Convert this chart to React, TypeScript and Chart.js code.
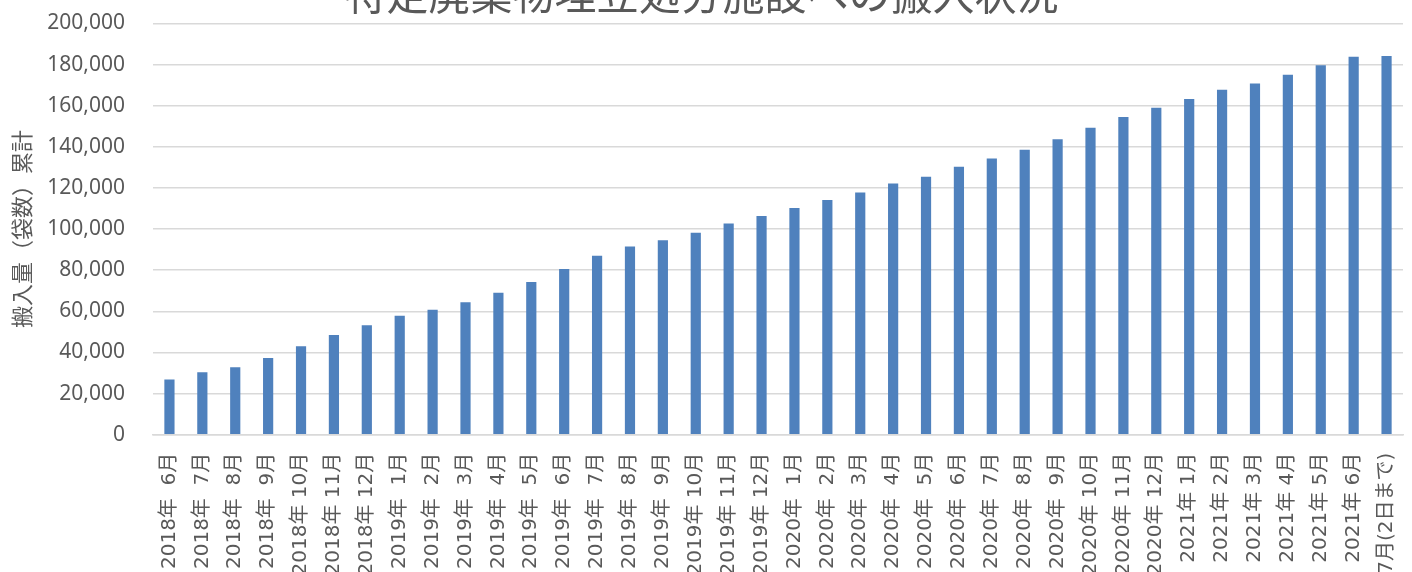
import React, { useEffect, useRef } from "react";
import { Chart, registerables } from "chart.js";

Chart.register(...registerables);

const TITLE = "特定廃棄物埋立処分施設への搬入状況";
const Y_TITLE = "搬入量（袋数）累計";

const categories: string[] = [
  "2018年  6月", "2018年  7月", "2018年  8月", "2018年  9月", "2018年 10月", "2018年 11月", "2018年 12月",
  "2019年  1月", "2019年  2月", "2019年  3月", "2019年  4月", "2019年  5月", "2019年  6月",
  "2019年  7月", "2019年  8月", "2019年  9月", "2019年 10月", "2019年 11月", "2019年 12月",
  "2020年  1月", "2020年  2月", "2020年  3月", "2020年  4月", "2020年  5月", "2020年  6月",
  "2020年  7月", "2020年  8月", "2020年  9月", "2020年 10月", "2020年 11月", "2020年 12月",
  "2021年 1月", "2021年 2月", "2021年 3月", "2021年 4月", "2021年 5月", "2021年 6月",
  "2021年 7月(2日まで)",
];

const cumulativeBags: number[] = [
  26800, 30400, 32800, 37300, 43000, 48500, 53200,
  57800, 60700, 64400, 69000, 74200, 80600,
  87000, 91500, 94600, 98200, 102700, 106400,
  110200, 114100, 117800, 122100, 125400, 130300,
  134300, 138500, 143700, 149200, 154500, 159000,
  163200, 167700, 170800, 175000, 179600, 183800,
  184100,
];

const Y_MIN = 0;
const Y_MAX = 200000;
const Y_STEP = 20000;

const FONT_CJK = "'Noto Sans CJK JP', 'Noto Sans', sans-serif";
const FONT_MIX = "'Noto Sans', 'Noto Sans CJK JP', sans-serif";
const FONT_XTICK = "'DejaVu Sans', 'Noto Sans CJK JP', sans-serif";
const TEXT = "#595959";
const GRID = "#d9d9d9";

const CANVAS_W = 1412;
const CANVAS_H = 612;
const OFFSET_TOP = 40;

export default function App() {
  const ref = useRef<HTMLCanvasElement | null>(null);

  useEffect(() => {
    if (!ref.current) return;
    const chart = new Chart(ref.current, {
      type: "bar",
      data: {
        labels: categories,
        datasets: [
          {
            label: Y_TITLE,
            data: cumulativeBags,
            backgroundColor: "#4F81BD",
            borderWidth: 0,
            barPercentage: 0.31,
            categoryPercentage: 1,
          },
        ],
      },
      options: {
        animation: false,
        responsive: false,
        maintainAspectRatio: false,
        layout: { padding: { left: 0, right: 9, top: 0, bottom: 0 } },
        plugins: {
          legend: { display: false },
          tooltip: { enabled: false },
          title: {
            display: true,
            text: TITLE,
            color: TEXT,
            font: { family: FONT_CJK, size: 42, weight: "normal", lineHeight: 1.2 },
            padding: { top: 9, bottom: 4 },
          },
        },
        scales: {
          x: {
            grid: { display: false, drawTicks: false },
            border: { display: true, color: GRID, width: 1.5 },
            ticks: {
              color: TEXT,
              font: { family: FONT_XTICK, size: 20 },
              minRotation: 90,
              maxRotation: 90,
              autoSkip: false,
              padding: 18,
            },
            afterFit: (scale: any) => {
              scale.height = 137.3;
              scale.paddingLeft = 0;
              scale.paddingRight = 0;
            },
          },
          y: {
            min: Y_MIN,
            max: Y_MAX,
            grid: { color: GRID, lineWidth: 1.5, drawTicks: false },
            border: { display: false },
            ticks: {
              stepSize: Y_STEP,
              color: TEXT,
              font: { family: FONT_MIX, size: 21 },
              padding: 28,
              callback: (v: any) => Number(v).toLocaleString("en-US"),
            },
            title: {
              display: true,
              text: Y_TITLE,
              color: TEXT,
              font: { family: FONT_CJK, size: 22, lineHeight: 1.2 },
              padding: { top: 8, bottom: 0 },
            },
            afterFit: (scale: any) => {
              scale.width = 153;
              scale.paddingTop = 0;
              scale.paddingBottom = 0;
            },
          },
        },
      },
    });
    return () => chart.destroy();
  }, []);

  return (
    <div
      style={{
        position: "absolute",
        left: 0,
        top: -OFFSET_TOP,
        width: CANVAS_W,
        height: CANVAS_H,
        overflow: "hidden",
      }}
    >
      <canvas ref={ref} width={CANVAS_W} height={CANVAS_H} style={{ display: "block" }} />
    </div>
  );
}
